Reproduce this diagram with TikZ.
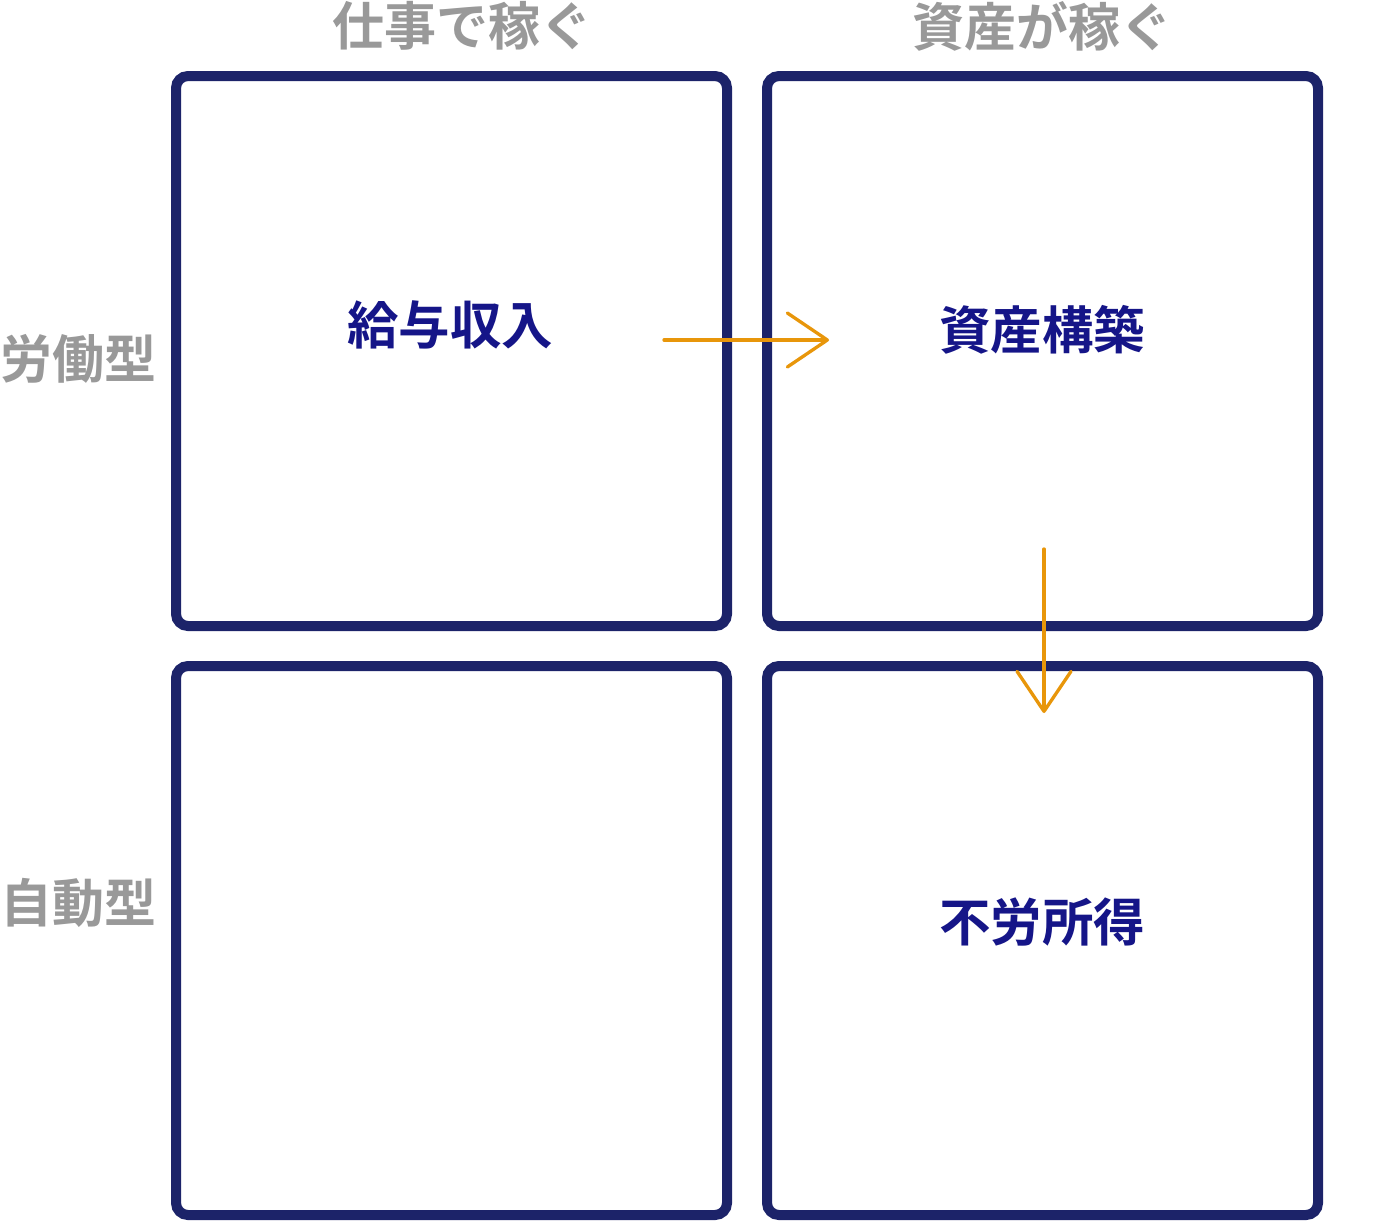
\documentclass[tikz,border=0pt]{standalone}
\usepackage{fontspec}
\newfontfamily\cjk{Noto Sans CJK JP}[BoldFont={Noto Sans CJK JP Bold}]
\usetikzlibrary{arrows.meta}
\definecolor{boxnavy}{HTML}{1C2369}
\definecolor{txtnavy}{HTML}{151588}
\definecolor{lblgray}{HTML}{999999}
\definecolor{arrorange}{HTML}{E8960A}
\tikzset{
  quad/.style={draw=boxnavy, line width=10pt, rounded corners=12pt, fill=white,
    minimum width=551pt, minimum height=550pt, inner sep=0pt},
  quadtext/.style={text=txtnavy, font=\cjk\bfseries\fontsize{51.5pt}{52pt}\selectfont, inner sep=0pt},
  axislabel/.style={text=lblgray, font=\cjk\bfseries\fontsize{52pt}{52pt}\selectfont, inner sep=0pt},
  flow/.style={draw=arrorange, line width=3.3pt, line cap=round,
    -{Straight Barb[length=40pt, width=54pt, line width=3.3pt, line cap=round, line join=round]}}
}
\begin{document}
\begin{tikzpicture}[x=1pt, y=-1pt]
\useasboundingbox (0,0) rectangle (1391,1221);
\node[quad, minimum height=550pt] (b1) at (451.5,351) {};
\node[quad, minimum height=550pt] (b2) at (1042.5,351) {};
\node[quad, minimum height=549pt] (b3) at (451.5,940.5) {};
\node[quad, minimum height=549pt] (b4) at (1042.5,940.5) {};
\node[quadtext] (t1) at (450,325) {給与収入};
\node[quadtext] (t2) at (1042,330) {資産構築};
\node[quadtext] (t4) at (1042,921.5) {不労所得};
\node[axislabel] (c1) at (462,26) {仕事で稼ぐ};
\node[axislabel] (c2) at (1042,26) {資産が稼ぐ};
\node[axislabel] (r1) at (78,359) {労働型};
\node[axislabel] (r2) at (79,903) {自動型};
\coordinate (a1s) at (664,340);
\coordinate (a1e) at (829,340);
\coordinate (a2s) at (1044,549);
\coordinate (a2e) at (1044,713);
\draw[flow] (a1s) -- (a1e);
\draw[flow] (a2s) -- (a2e);
\end{tikzpicture}
\end{document}
